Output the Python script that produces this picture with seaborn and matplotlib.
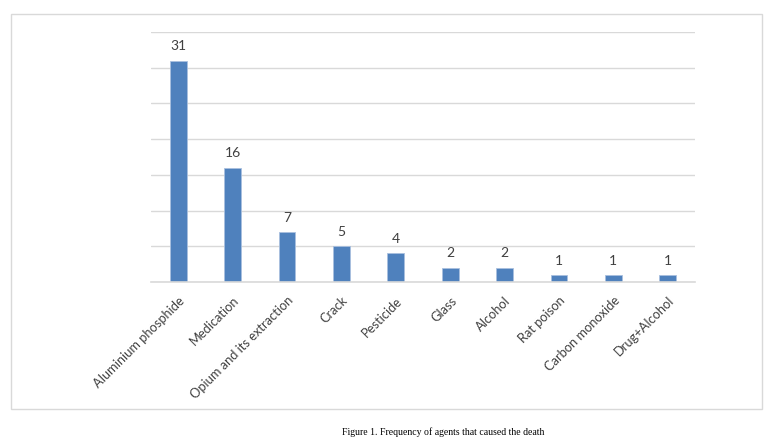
import matplotlib
matplotlib.use("Agg")
import matplotlib.pyplot as plt
import seaborn as sns
import pandas as pd
from matplotlib.patches import Rectangle

categories = ["Aluminium phosphide", "Medication", "Opium and its extraction", "Crack",
              "Pesticide", "Glass", "Alcohol", "Rat poison", "Carbon monoxide", "Drug+Alcohol"]
values = [31, 16, 7, 5, 4, 2, 2, 1, 1, 1]
caption = "Figure 1. Frequency of agents that caused the death"

df = pd.DataFrame({"agent": categories, "count": values})

sns.set_theme(style="white")
plt.rcParams['font.family'] = ['Lato', 'DejaVu Sans']

fig = plt.figure(figsize=(7.75, 4.45), dpi=100)
fig.patch.set_facecolor("white")

# outer frame
fig.patches.append(Rectangle((11/775, 1-409/445), 751/775, 395/445, transform=fig.transFigure,
                             fill=False, edgecolor="#d9d9d9", linewidth=1.0))

ax = fig.add_axes([151/775, 1-282/445, 544/775, 250/445])
sns.barplot(data=df, x="agent", y="count", color="#4F81BD", width=0.31,
            edgecolor="#a9c0df", linewidth=0.6, saturation=1, ax=ax)

ax.set_ylim(0, 35)
ax.set_yticks(range(0, 36, 5))
ax.yaxis.grid(True, color="#d9d9d9", linewidth=1.0)
ax.set_axisbelow(True)
ax.tick_params(axis="y", left=False, labelleft=False)
ax.tick_params(axis="x", bottom=False, pad=3)
for s in ["top", "right", "left"]:
    ax.spines[s].set_visible(False)
ax.spines["bottom"].set_color("#d9d9d9")
ax.spines["bottom"].set_linewidth(1.2)
ax.set_xlabel("")
ax.set_ylabel("")
ax.set_xlim(-0.5, len(categories) - 0.5)

ax.set_xticks(range(len(categories)))
ax.set_xticklabels(categories, rotation=45, ha="right", rotation_mode="anchor",
                   fontsize=9.3, color="#404040")

for c in ax.containers:
    ax.bar_label(c, labels=[str(v) for v in values], padding=6, fontsize=10, color="#404040")

fig.text(342/775, 1-432/445, caption, fontsize=7, family=["Liberation Serif", "DejaVu Serif"],
         color="black", ha="left", va="center")

fig.savefig("out.png", dpi=100, facecolor="white")
